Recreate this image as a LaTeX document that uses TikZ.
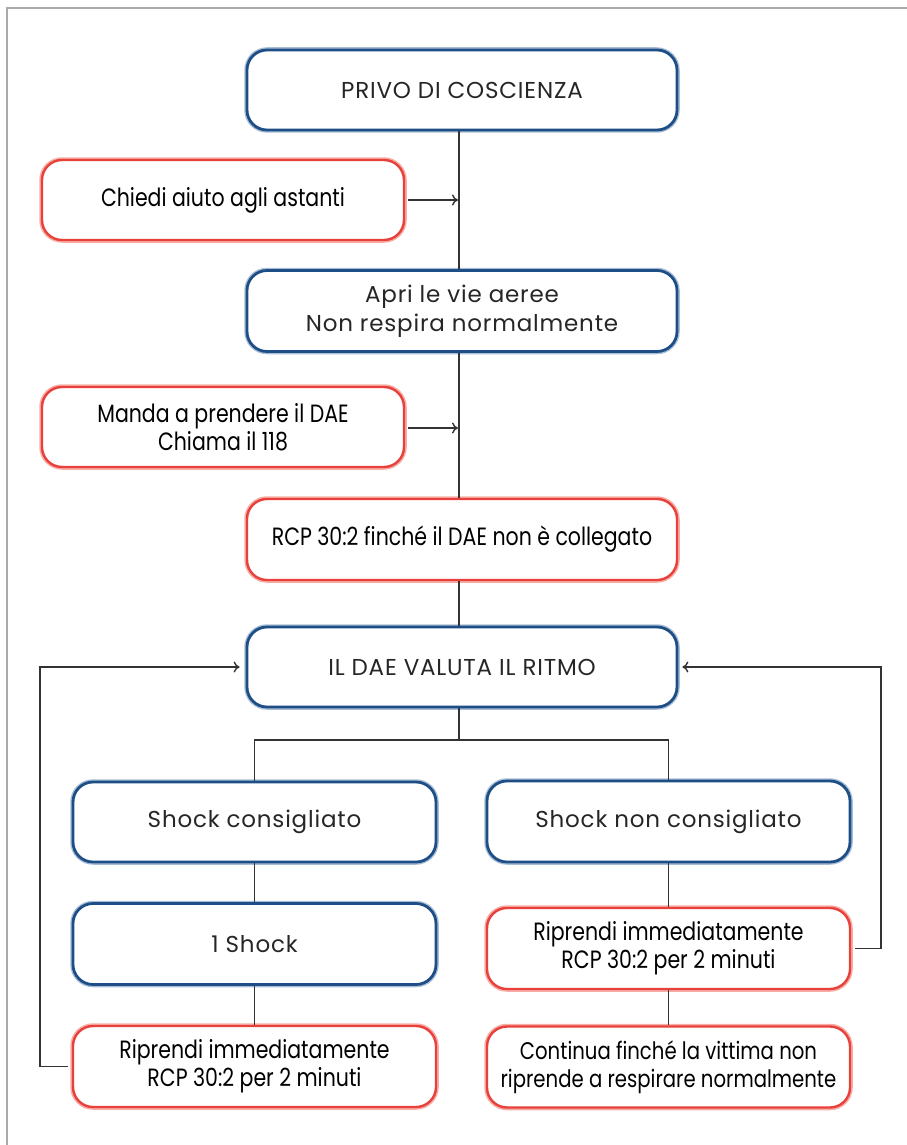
\documentclass[tikz,border=0pt]{standalone}
\usepackage{fontspec}
\setmainfont{Poppins}
\newfontfamily\bluefont[LetterSpace=3.5]{Poppins}
\newfontfamily\redfont[FakeStretch=0.82]{Poppins}
\usetikzlibrary{arrows.meta}
\definecolor{bluebd}{HTML}{1D4F86}
\definecolor{blueglow}{HTML}{A9BDD6}
\definecolor{redbd}{HTML}{E8403A}
\definecolor{redglow}{HTML}{F7ADA6}
\definecolor{framegray}{HTML}{AAAAAA}
\definecolor{linegray}{HTML}{333333}
\tikzset{
  box/.style={rounded corners=20pt, inner sep=0pt, align=center, fill=white},
  bluebox/.style={box, draw=bluebd, line width=2.8pt,
    preaction={draw=blueglow, line width=5.5pt},
    font=\bluefont\fontsize{23}{29}\selectfont, text=black!85},
  redbox/.style={box, draw=redbd, line width=2.4pt,
    preaction={draw=redglow, line width=5.5pt},
    font=\redfont\fontsize{25}{28}\selectfont, text=black},
  conn/.style={draw=linegray, line width=1.4pt},
  arr/.style={conn, -{To[length=6pt,width=11pt]}},
}
\begin{document}
\begin{tikzpicture}[x={(1pt,0)}, y={(0,-1pt)}]
\useasboundingbox (0,0) rectangle (906,1145);
% frame
\draw[framegray, line width=2pt] (7,1146) -- (7,8) -- (907,8);

% boxes
\node[bluebox, minimum width=430pt, minimum height=80pt] (b1) at (462,90) {PRIVO DI COSCIENZA};
\node[redbox, minimum width=362pt, minimum height=80pt] (r1) at (223,200) {Chiedi aiuto agli astanti};
\node[bluebox, minimum width=430pt, minimum height=81pt] (b2) at (462,311) {Apri le vie aeree\\Non respira normalmente};
\node[redbox, minimum width=362pt, minimum height=80pt] (r2) at (223,427) {Manda a prendere il DAE\\Chiama il 118};
\node[redbox, minimum width=430pt, minimum height=81pt] (r3) at (462,539.5) {RCP 30:2 finché il DAE non è collegato};
\node[bluebox, minimum width=430pt, minimum height=80pt] (b3) at (462,667) {IL DAE VALUTA IL RITMO};
\node[bluebox, minimum width=363pt, minimum height=80pt] (b4) at (254.5,822) {Shock consigliato};
\node[bluebox, minimum width=363pt, minimum height=81pt] (b5) at (668.5,821.5) {Shock non consigliato};
\node[bluebox, minimum width=363pt, minimum height=81pt] (b6) at (254.5,944) {1 Shock};
\node[redbox, minimum width=363pt, minimum height=81pt] (r4) at (254.5,1066.5) {Riprendi immediatamente\\RCP 30:2 per 2 minuti};
\node[redbox, minimum width=363pt, minimum height=81pt] (r5) at (668.5,948.5) {Riprendi immediatamente\\RCP 30:2 per 2 minuti};
\node[redbox, minimum width=363pt, minimum height=81pt, font=\redfont\fontsize{24}{28}\selectfont] (r6) at (668.5,1067) {Continua finché la vittima non\\riprende a respirare normalmente};

% junction coordinates
\coordinate (j1) at (459,200);
\coordinate (j2) at (459,428);
\coordinate (br) at (459,740);
\coordinate (lf) at (40,1066.5);
\coordinate (rf) at (881,948.5);

% spine
\draw[conn] (b1.south -| j1) -- (b2.north -| j1);
\draw[conn] (b2.south -| j1) -- (r3.north -| j1);
\draw[conn] (r3.south -| j1) -- (b3.north -| j1);
\draw[arr, shorten <=3pt, shorten >=1pt] (r1.east) -- (j1);
\draw[arr, shorten <=3pt, shorten >=1pt] (r2.east |- j2) -- (j2);

% branch
\draw[conn] (b3.south -| br) -- (br);
\draw[conn] (b4.north) |- (br) -| (b5.north);
\draw[conn] (b4.south) -- (b6.north);
\draw[conn] (b6.south) -- (r4.north);
\draw[conn] (b5.south) -- (r5.north);
\draw[conn] (r5.south) -- (r6.north);

% feedback loops
\draw[arr, shorten <=4pt, shorten >=6pt] (r4.west) -- (lf) |- (b3.west);
\draw[arr, shorten <=4pt, shorten >=4pt] (r5.east) -- (rf) |- (b3.east);
\end{tikzpicture}
\end{document}
